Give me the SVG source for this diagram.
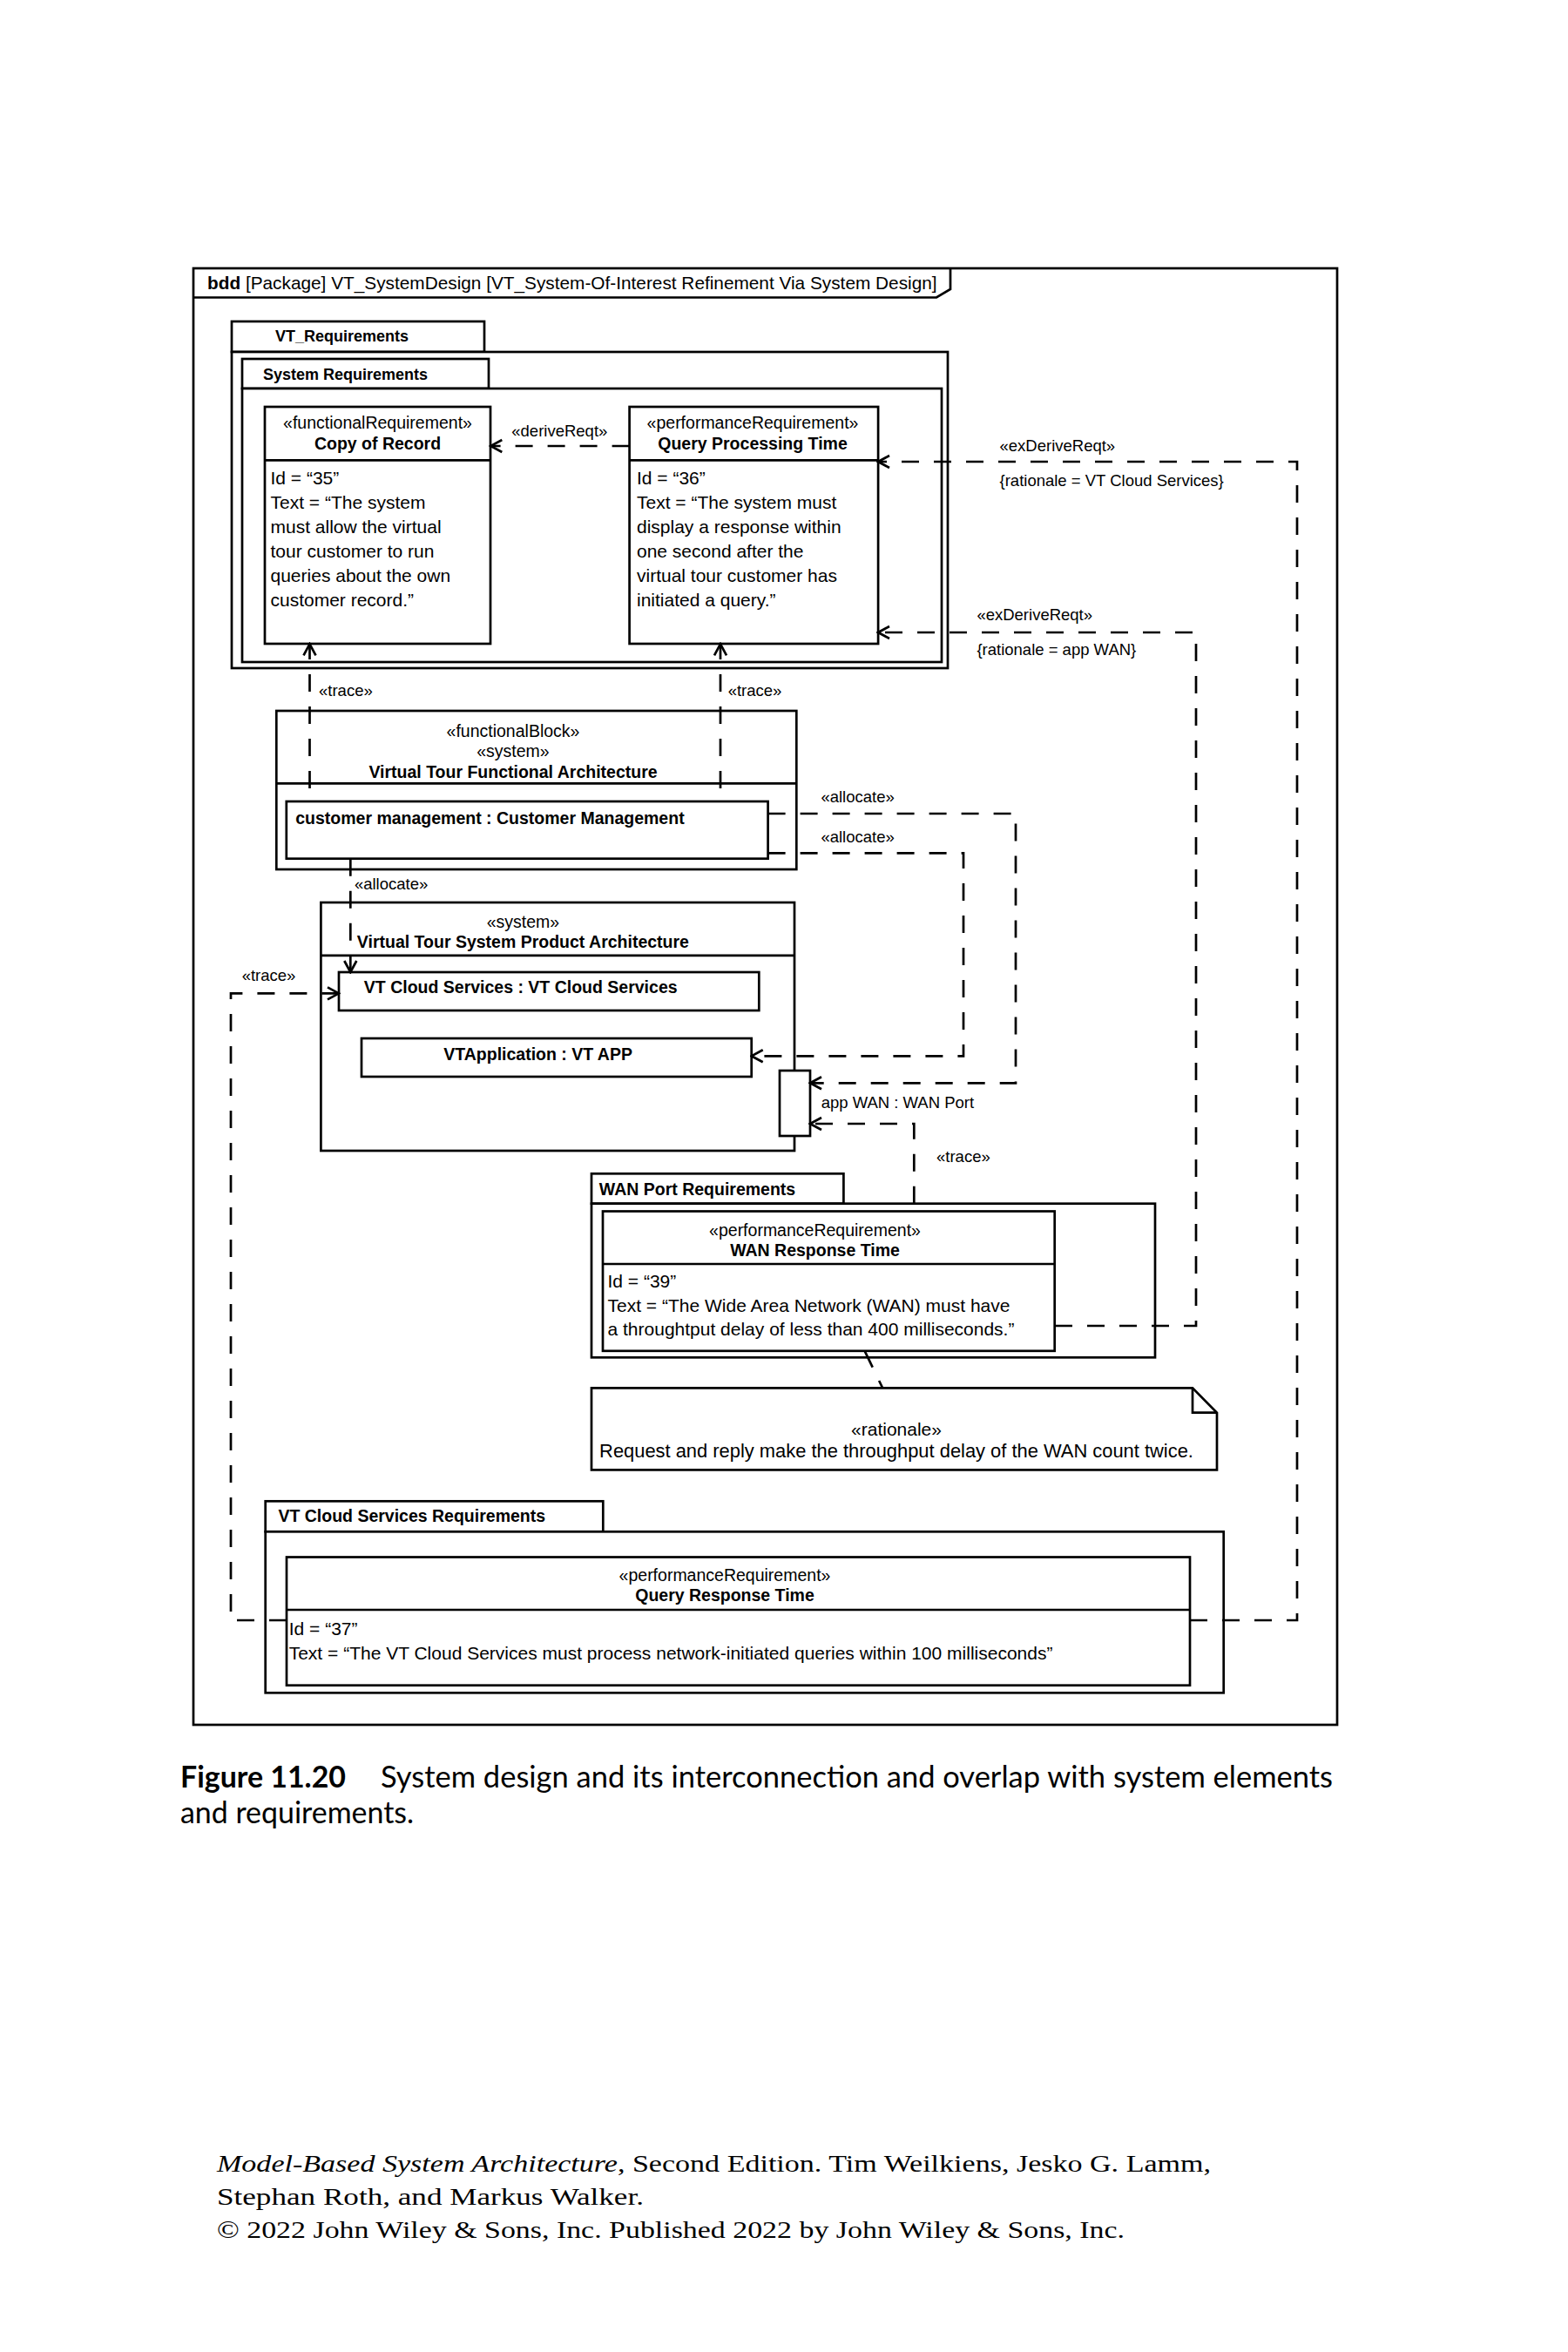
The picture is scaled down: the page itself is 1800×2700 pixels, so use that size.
<svg xmlns="http://www.w3.org/2000/svg" width="1800" height="2700" viewBox="0 0 1800 2700">
<defs>
<style>
.box{fill:#fff;stroke:#000;stroke-width:2.7}
.ln{fill:none;stroke:#000;stroke-width:2.7}
.con{fill:none;stroke:#000;stroke-width:2.7;stroke-dasharray:20 17}
.t{font-family:"Liberation Sans",Arial,Helvetica,sans-serif;font-size:21px;fill:#000}
.b{font-weight:bold;font-size:19.5px}
.pk{font-weight:bold;font-size:18px}
.st{font-size:19.5px}
.lbl{font-size:18.5px}
.c{text-anchor:middle}
.cap{font-family:Lato,"Noto Sans",sans-serif;font-size:34px;fill:#000}
.foot{font-family:"Liberation Serif","Times New Roman",serif;font-size:27px;fill:#000}
</style>
<marker id="arr" viewBox="-15 -9 17 18" refX="0" refY="0" markerWidth="17" markerHeight="18" markerUnits="userSpaceOnUse" orient="auto">
<path d="M-13,-7 L0,0 L-13,7" fill="none" stroke="#000" stroke-width="2.7" stroke-dasharray="none"/>
</marker>
</defs>
<rect x="0" y="0" width="1800" height="2700" fill="#fff"/>

<g id="frame">
<rect class="ln" x="222" y="308" width="1313" height="1672"/>
<path class="ln" d="M222,341.5 H1075 L1091,332 V308"/>
<text class="t" x="238" y="332" style="font-size:20.8px"><tspan font-weight="bold">bdd</tspan> [Package] VT_SystemDesign [VT_System-Of-Interest Refinement Via System Design]</text>
</g>

<g id="pkg-vt-requirements">
<rect class="box" x="266" y="369" width="290" height="35"/>
<rect class="box" x="266" y="404" width="822" height="363"/>
<text class="t pk" x="316" y="392">VT_Requirements</text>
</g>

<g id="pkg-system-requirements">
<rect class="box" x="278" y="412" width="283" height="34"/>
<rect class="box" x="278" y="446" width="803" height="314"/>
<text class="t pk" x="302" y="436">System Requirements</text>
</g>

<g id="req-copy-of-record">
<rect class="box" x="304" y="467" width="259" height="272"/>
<line class="ln" x1="304" y1="528.3" x2="563" y2="528.3"/>
<text class="t st c" x="433.5" y="492">«functionalRequirement»</text>
<text class="t b c" x="433.5" y="516">Copy of Record</text>
<text class="t" x="310.5" y="555.7">Id = “35”</text>
<text class="t" x="310.5" y="583.8">Text = “The system</text>
<text class="t" x="310.5" y="612">must allow the virtual</text>
<text class="t" x="310.5" y="640">tour customer to run</text>
<text class="t" x="310.5" y="668.3">queries about the own</text>
<text class="t" x="310.5" y="696.4">customer record.”</text>
</g>

<g id="req-query-processing-time">
<rect class="box" x="722.6" y="467" width="285.5" height="272"/>
<line class="ln" x1="722.6" y1="528.3" x2="1008" y2="528.3"/>
<text class="t st c" x="864" y="492">«performanceRequirement»</text>
<text class="t b c" x="864" y="516">Query Processing Time</text>
<text class="t" x="731" y="555.7">Id = “36”</text>
<text class="t" x="731" y="583.8">Text = “The system must</text>
<text class="t" x="731" y="612">display a response within</text>
<text class="t" x="731" y="640">one second after the</text>
<text class="t" x="731" y="668.3">virtual tour customer has</text>
<text class="t" x="731" y="696.4">initiated a query.”</text>
</g>

<g id="block-functional-architecture">
<rect class="box" x="317.3" y="816" width="597" height="182"/>
<line class="ln" x1="317.3" y1="899.3" x2="914.3" y2="899.3"/>
<text class="t st c" x="589" y="845.7">«functionalBlock»</text>
<text class="t st c" x="589" y="869">«system»</text>
<text class="t b c" x="589" y="893">Virtual Tour Functional Architecture</text>
</g>

<g id="part-customer-management">
<rect class="box" x="328.8" y="920" width="552.8" height="65.7"/>
<text class="t b" x="339.2" y="945.7">customer management : Customer Management</text>
</g>

<g id="block-system-product-architecture">
<rect class="box" x="368.4" y="1036" width="543.6" height="285"/>
<line class="ln" x1="368.4" y1="1096.8" x2="912" y2="1096.8"/>
<text class="t st c" x="600.4" y="1065.4">«system»</text>
<text class="t b c" x="600.4" y="1087.5">Virtual Tour System Product Architecture</text>
</g>

<g id="part-vt-cloud-services">
<rect class="box" x="389" y="1116" width="482.3" height="44"/>
<text class="t b" x="417.8" y="1140.4">VT Cloud Services : VT Cloud Services</text>
</g>

<g id="part-vtapplication">
<rect class="box" x="415" y="1192" width="447.7" height="44"/>
<text class="t b c" x="617.6" y="1217">VTApplication : VT APP</text>
</g>

<g id="port-app-wan">
<rect class="box" x="895" y="1229" width="35" height="75"/>
<text class="t lbl" x="942.7" y="1271.7">app WAN : WAN Port</text>
</g>

<g id="pkg-wan-port-requirements">
<rect class="box" x="679" y="1347.3" width="289.4" height="34.4"/>
<rect class="box" x="679" y="1381.7" width="647" height="176.6"/>
<text class="t b" x="687.8" y="1371.7">WAN Port Requirements</text>
</g>

<g id="req-wan-response-time">
<rect class="box" x="692" y="1390.5" width="518.7" height="160.3"/>
<line class="ln" x1="692" y1="1451" x2="1210.7" y2="1451"/>
<text class="t st c" x="935.5" y="1418.5">«performanceRequirement»</text>
<text class="t b c" x="935.5" y="1441.7">WAN Response Time</text>
<text class="t" x="697.5" y="1478.3">Id = “39”</text>
<text class="t" x="697.5" y="1506">Text = “The Wide Area Network (WAN) must have</text>
<text class="t" x="697.5" y="1533.3">a throughtput delay of less than 400 milliseconds.”</text>
</g>

<g id="note-rationale">
<path class="box" d="M679,1593.3 H1369 L1397,1621.7 V1687.3 H679 Z"/>
<path class="ln" d="M1369,1593.3 V1621.7 H1397"/>
<text class="t c" x="1029" y="1648.3">«rationale»</text>
<text class="t c" x="1029" y="1673.3" style="font-size:21.9px">Request and reply make the throughput delay of the WAN count twice.</text>
</g>

<g id="pkg-vt-cloud-services-requirements">
<rect class="box" x="304.7" y="1723.3" width="387.6" height="35"/>
<rect class="box" x="304.7" y="1758.3" width="1100" height="185"/>
<text class="t b" x="319.4" y="1746.7">VT Cloud Services Requirements</text>
</g>

<g id="req-query-response-time">
<rect class="box" x="329" y="1787.5" width="1037" height="147.2"/>
<line class="ln" x1="329" y1="1848" x2="1366" y2="1848"/>
<text class="t st c" x="832" y="1815">«performanceRequirement»</text>
<text class="t b c" x="832" y="1838.3">Query Response Time</text>
<text class="t" x="331.7" y="1877.3">Id = “37”</text>
<text class="t" x="331.7" y="1905">Text = “The VT Cloud Services must process network-initiated queries within 100 milliseconds”</text>
</g>

<g id="connectors">
<path class="con" d="M722.6,512 H563.3" marker-end="url(#arr)"/>
<text class="t lbl" x="587.3" y="500.7">«deriveReqt»</text>

<path class="con" d="M1366,1860 H1489 V530 H1008" marker-end="url(#arr)"/>
<text class="t lbl" x="1147.5" y="518.3">«exDeriveReqt»</text>
<text class="t lbl" x="1147.5" y="558.3">{rationale = VT Cloud Services}</text>

<path class="con" d="M1211,1522 H1373 V726 H1008" marker-end="url(#arr)"/>
<text class="t lbl" x="1121.4" y="711.7">«exDeriveReqt»</text>
<text class="t lbl" x="1121.4" y="751.7">{rationale = app WAN}</text>

<path class="con" d="M355.5,905 V739.3" marker-end="url(#arr)"/>
<text class="t lbl" x="366" y="799">«trace»</text>
<path class="con" d="M827,905 V739.3" marker-end="url(#arr)"/>
<text class="t lbl" x="835.7" y="799">«trace»</text>

<path class="con" d="M881.6,934 H1166 V1243.3 H930" marker-end="url(#arr)"/>
<text class="t lbl" x="942.4" y="920.7">«allocate»</text>
<path class="con" d="M881.6,979.3 H1106 V1212.3 H862.7" marker-end="url(#arr)"/>
<text class="t lbl" x="942.4" y="967">«allocate»</text>
<path class="con" d="M402.3,985.7 V1116" marker-end="url(#arr)"/>
<text class="t lbl" x="406.9" y="1020.7">«allocate»</text>

<path class="con" d="M329,1860 H265 V1140.4 H389" marker-end="url(#arr)"/>
<text class="t lbl" x="277.7" y="1126">«trace»</text>

<path class="con" d="M1049.3,1381.7 V1290 H930" marker-end="url(#arr)"/>
<text class="t lbl" x="1075" y="1333.5">«trace»</text>

<path class="con" d="M993,1551.7 L1013,1593"/>
</g>

<g id="caption">
<text class="cap" x="207" y="2052" font-weight="bold" textLength="190" lengthAdjust="spacingAndGlyphs">Figure 11.20</text>
<text class="cap" x="437" y="2052" textLength="1093" lengthAdjust="spacingAndGlyphs">System design and its interconnection and overlap with system elements</text>
<text class="cap" x="207" y="2093" textLength="268" lengthAdjust="spacingAndGlyphs">and requirements.</text>
</g>

<g id="footer">
<text class="foot" x="249" y="2493" textLength="1141" lengthAdjust="spacingAndGlyphs"><tspan font-style="italic">Model-Based System Architecture</tspan>, Second Edition. Tim Weilkiens, Jesko G. Lamm,</text>
<text class="foot" x="249" y="2531" textLength="490" lengthAdjust="spacingAndGlyphs">Stephan Roth, and Markus Walker.</text>
<text class="foot" x="249" y="2569" textLength="1042" lengthAdjust="spacingAndGlyphs">© 2022 John Wiley &amp; Sons, Inc. Published 2022 by John Wiley &amp; Sons, Inc.</text>
</g>
</svg>
